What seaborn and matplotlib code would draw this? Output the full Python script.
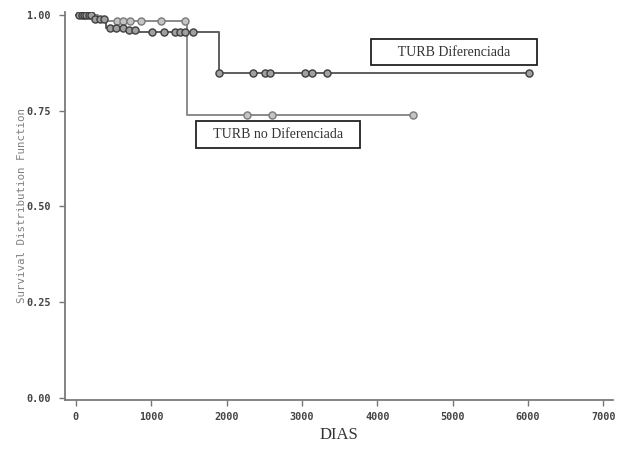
import numpy as np
import pandas as pd
import matplotlib
matplotlib.use("Agg")
import matplotlib.pyplot as plt
import seaborn as sns

# Kaplan-Meier steps (days, survival)
nodif_t = [0, 300, 1470, 4480]
nodif_s = [1.0, 0.985, 0.739, 0.739]
nodif_cens = [540, 620, 720, 870, 1135, 1450, 2270, 2600, 4480]

dif_t = [0, 230, 400, 680, 800, 1905, 6012]
dif_s = [1.0, 0.99, 0.966, 0.96, 0.956, 0.849, 0.849]
dif_cens = [40, 80, 110, 140, 170, 200, 260, 320, 370, 450, 530, 620, 710,
            780, 1005, 1169, 1315, 1381, 1448, 1558,
            1905, 2346, 2510, 2577, 3041, 3130, 3333, 6012]

xticks = [0, 1000, 2000, 3000, 4000, 5000, 6000, 7000]
yticks = [0.0, 0.25, 0.50, 0.75, 1.00]


def surv_at(times, levels, t):
    idx = np.searchsorted(times, t, side="right") - 1
    return np.asarray(levels)[idx]


sns.set_style("white")
fig = plt.figure(figsize=(6.18, 4.53), dpi=100)
ax = fig.add_axes([0.105, 0.117, 0.887, 0.857])

curves = [
    (nodif_t, nodif_s, nodif_cens, "#8a8a8a", "#c4c4c4", "#7a7a7a"),
    (dif_t, dif_s, dif_cens, "#5e5e5e", "#a0a0a0", "#3e3e3e"),
]
for t, s, cens, lc, fc, ec in curves:
    sns.lineplot(x=t, y=s, drawstyle="steps-post", color=lc, linewidth=1.4,
                 ax=ax, estimator=None, sort=False)
    cdf = pd.DataFrame({"t": cens, "s": surv_at(t, s, cens)})
    sns.scatterplot(data=cdf, x="t", y="s", ax=ax, s=26, color=fc,
                    edgecolor=ec, linewidth=1.0, zorder=3)

ax.set_xlim(-146, 7131)
ax.set_ylim(-0.005, 1.008)
ax.set_xticks(xticks)
ax.set_yticks(yticks)
tick_font = dict(fontfamily="DejaVu Sans Mono", fontweight="bold",
                 fontsize=7.3, color="#444444")
ax.set_xticklabels([str(v) for v in xticks], **tick_font)
ax.set_yticklabels(["%.2f" % v for v in yticks], **tick_font)
ax.tick_params(axis="both", direction="out", length=4, width=1, color="#777777",
               bottom=True, left=True)
ax.tick_params(axis="x", pad=5)
ax.tick_params(axis="y", pad=6)

sns.despine(ax=ax)
for side in ["left", "bottom"]:
    ax.spines[side].set_color("#7a7a7a")
    ax.spines[side].set_linewidth(1.3)

ax.set_ylabel("Survival Distribution Function", fontfamily="DejaVu Sans Mono",
              fontsize=7.8, color="#808080")
ax.yaxis.set_label_coords(-0.069, 0.5)
ax.set_xlabel("DIAS", fontfamily="Liberation Serif", fontsize=12,
              color="#333333", labelpad=3)

box = dict(boxstyle="square,pad=0.5", facecolor="white", edgecolor="#222222",
           linewidth=1.3)
ax.text(5020, 0.903, "      TURB Diferenciada      ", ha="center", va="center",
        fontfamily="Liberation Serif", fontsize=10, color="#333333",
        bbox=dict(box, boxstyle="square,pad=0.45"))
ax.text(2683, 0.687, "   TURB no Diferenciada   ", ha="center", va="center",
        fontfamily="Liberation Serif", fontsize=10, color="#333333",
        bbox=box)

fig.savefig("out.png", dpi=100)
